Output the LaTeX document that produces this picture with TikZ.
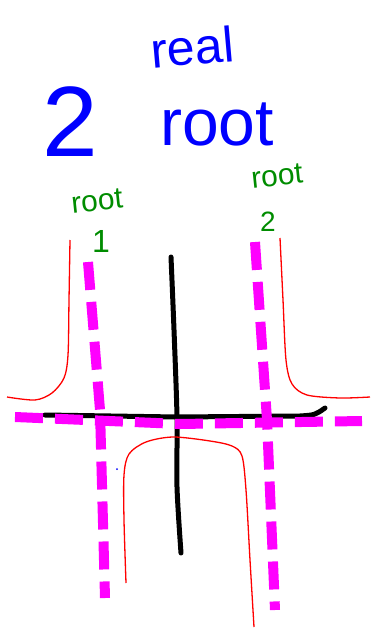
\documentclass[tikz,border=0pt]{standalone}
\usepackage{fontspec}
\setmainfont{Liberation Sans}
\tikzset{
  axisline/.style={line width=5pt,line cap=round,line join=round},
  asymline/.style={magenta!100,line width=10pt,dash pattern=on 28pt off 12pt},
  graphline/.style={red,line width=1.3pt},
  bluetext/.style={text=blue,inner sep=0pt},
  greentext/.style={text=green!55!black,inner sep=0pt}
}
\definecolor{magenta}{RGB}{255,0,255}
\begin{document}
\begin{tikzpicture}[x=1pt,y=-1pt]
\useasboundingbox (0,0) rectangle (371,628);

% title
\node[bluetext,font=\fontsize{100}{100}\selectfont] (two) at (70,122) {2};
\node[bluetext,font=\fontsize{50}{50}\selectfont,rotate=5] (real) at (192,47) {real};
\node[bluetext,font=\fontsize{66}{66}\selectfont] (root) at (217,124) {root};

% root labels
\node[greentext,font=\fontsize{30}{30}\selectfont,rotate=6] (rootA) at (97,201) {root};
\node[greentext,font=\fontsize{32}{32}\selectfont] (oneA) at (101,241) {1};
\node[greentext,font=\fontsize{30}{30}\selectfont,rotate=6] (rootB) at (277,176) {root};
\node[greentext,font=\fontsize{28}{28}\selectfont] (twoB) at (268,222) {2};

% axes
\draw[axisline] plot[smooth] coordinates {(171,257) (174,330) (177,417) (177,487) (181,553)};
\draw[axisline] (45,415) -- (177,417) -- (300,416) .. controls (315,415) .. (325,408);

% asymptotes
\draw[asymline] (15,417) -- (180,424) -- (362,421);
\draw[asymline] (88,262) -- (100,410) -- (105,598);
\draw[asymline] (255,242) -- (267,420) -- (275,610);

% graph
\draw[graphline] plot[smooth] coordinates {(70,240) (69,300) (68,355) (64,378) (52,393) (35,400) (7,397)};
\draw[graphline] plot[smooth] coordinates {(280,238) (283,300) (286,360) (292,384) (307,395) (340,398) (370,397)};
\draw[graphline] plot[smooth] coordinates {(126,583) (124,520) (124,475) (129,454) (146,442) (173,437) (210,441) (232,446) (242,456) (246,490) (250,560) (254,627)};

\fill[blue] (117,469) circle (1);
\end{tikzpicture}
\end{document}
